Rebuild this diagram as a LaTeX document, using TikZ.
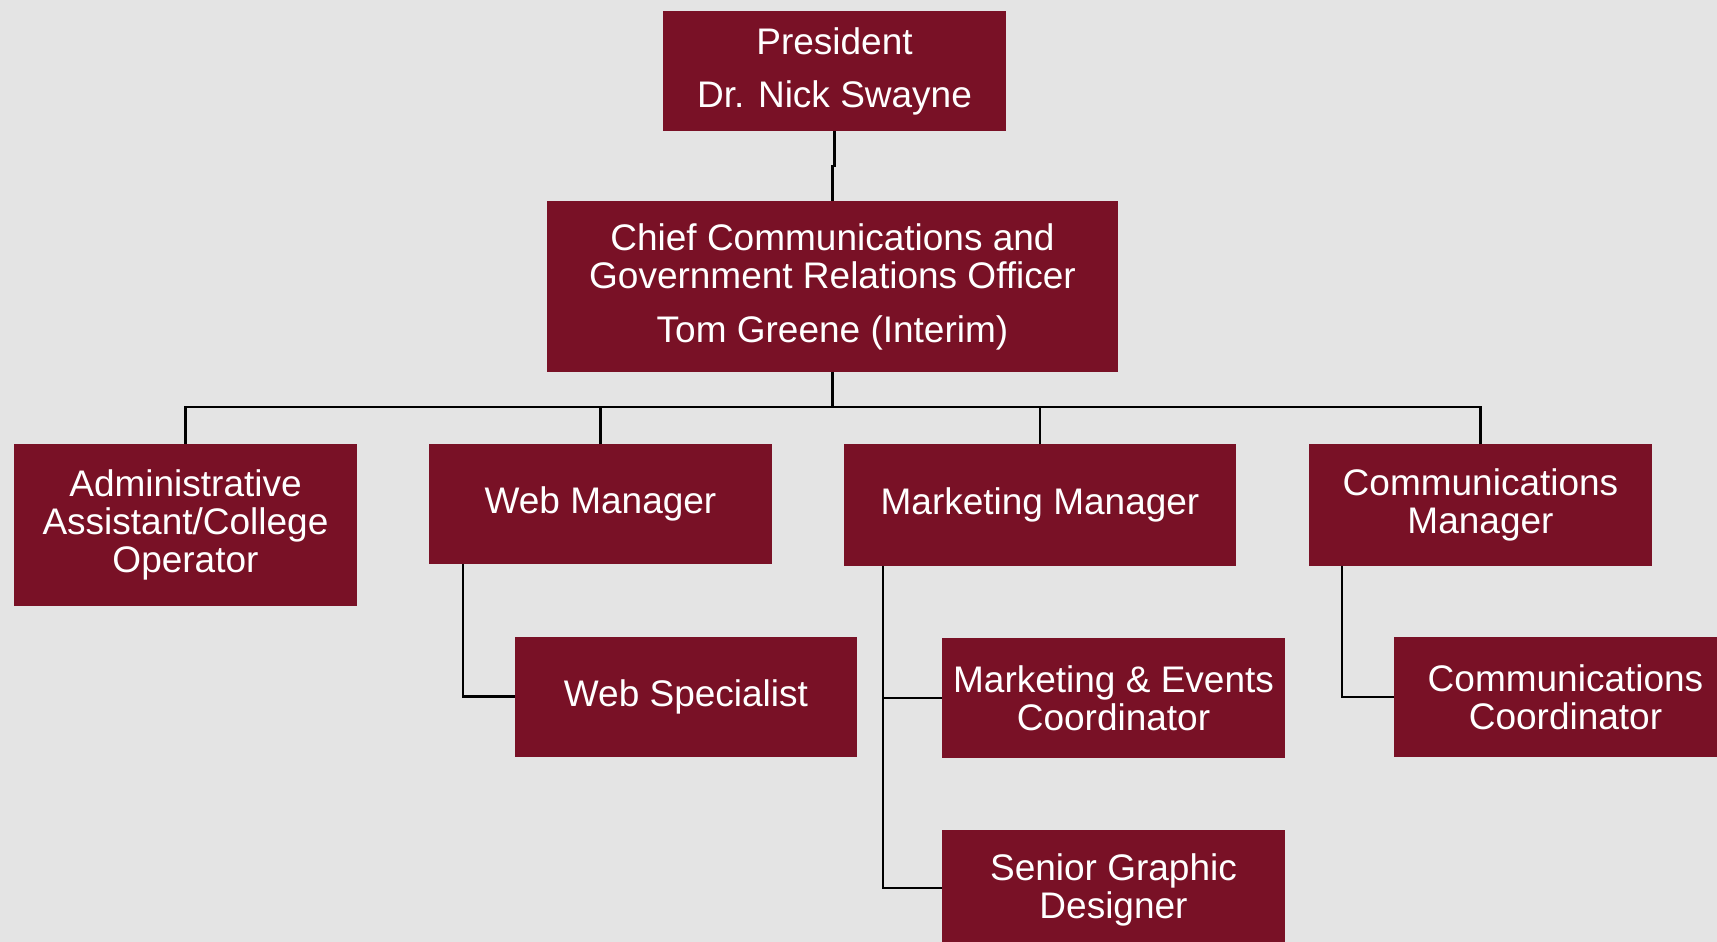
\documentclass[tikz,border=0pt]{standalone}
\usepackage{fontspec}
\setmainfont{Liberation Sans}
\usepackage{tikz}
\usetikzlibrary{positioning,calc}
\definecolor{maroon}{RGB}{121,17,38}
\definecolor{canvas}{RGB}{228,228,228}

\begin{document}
\begin{tikzpicture}[
    x=1pt,y=-1pt,
    unit/.style={rectangle,fill=maroon,text=white,inner sep=0pt,align=center,
      minimum width=343pt,minimum height=120pt,font=\fontsize{37}{38}\selectfont},
    link/.style={black,line width=2.2pt}]
    \useasboundingbox (0,0) rectangle (1717,942);
    \fill[canvas] (0,0) rectangle (1717,942);
    \clip (0,0) rectangle (1717,942);
    % top of the tree
    \node[unit] (pres) at (834.5,71) {President\\[15pt]Dr. Nick Swayne};
    \node[unit,minimum width=571pt,minimum height=171pt] (cco) at (832.5,286.5)
      {Chief Communications and\\Government Relations Officer\\[16pt]Tom Greene (Interim)};
    % direct reports
    \node[unit,minimum height=162pt] (admin) at (185.5,525) {Administrative\\Assistant/College\\Operator};
    \node[unit] (webmgr) at (600.5,504) {Web Manager};
    \node[unit,minimum width=392pt,minimum height=122pt] (mktmgr) at (1040,505) {Marketing Manager};
    \node[unit,minimum height=122pt] (commgr) at (1480.5,505) {Communications\\Manager};
    % second level
    \node[unit,minimum width=342pt] (websp) at (686,696.5) {Web Specialist};
    \node[unit] (mktev) at (1113.5,698) {Marketing \& Events\\Coordinator};
    \node[unit] (sgd) at (1113.5,890) {Senior Graphic\\Designer};
    \node[unit] (commco) at (1565.5,697) {Communications\\Coordinator};
    % connectors
    \draw[link] (pres.south) -- ++(0,35) -| (cco.north);
    \foreach \n in {admin,webmgr,mktmgr,commgr}
      \draw[link] (cco.south) -- ++(0,35) -| (\n.north);
    \draw[link] ([xshift=34pt]webmgr.south west) |- (websp.west);
    \draw[link] ([xshift=39pt]mktmgr.south west) |- (mktev.west);
    \draw[link] ([xshift=39pt]mktmgr.south west) |- ([yshift=2pt]sgd.west);
    \draw[link] ([xshift=33pt]commgr.south west) |- (commco.west);
  \end{tikzpicture}
\end{document}
